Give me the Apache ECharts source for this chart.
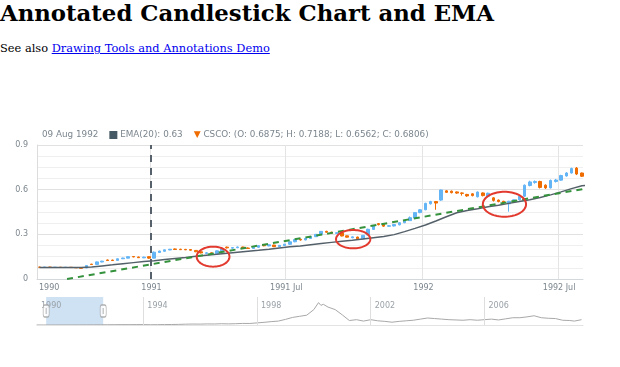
<!DOCTYPE html>
<html><head><meta charset="utf-8">
<script src="https://cdn.jsdelivr.net/npm/echarts@6/dist/echarts.min.js"></script>
<style>
html,body{margin:0;padding:0;background:#fff;width:620px;height:367px;overflow:hidden}
#title{position:absolute;left:0;top:0;margin:0;font:bold 22.8px "DejaVu Serif";line-height:26px;color:#000;white-space:nowrap}
#sub{position:absolute;left:0;top:41px;font:11.4px "DejaVu Serif";line-height:14px;color:#000;white-space:nowrap}
#sub a{color:#0000ee;text-decoration:underline}
#chart{position:absolute;left:0;top:0;width:620px;height:367px}
</style></head><body>
<h1 id="title">Annotated Candlestick Chart and EMA</h1>
<div id="sub">See also <a href="#">Drawing Tools and Annotations Demo</a></div>
<div id="chart"></div>
<script>
// ---- data ----
const firstWeek = '1990-08-05'; // weekly candles, one per week from this date
const opens  = [.080,.079,.080,.078,.079,.078,.079,.077,.075,.074,.100,.098,.114,.128,.127,.125,.136,.140,.151,.148,.142,.150,
  .140,.178,.186,.195,.202,.200,.199,.198,.192,.183,.172,.176,.170,.189,.214,.207,.210,.215,.208,.205,.213,.226,.222,.228,.217,.225,.233,.250,.267,.262,.272,.284,.300,.320,.314,.306,.311,.290,.277,.282,.270,.295,.333,.372,.366,.354,.356,.364,.378,.392,.410,.446,
  .465,.505,.520,.530,.592,.590,.585,.578,.568,.572,.552,.578,.556,.545,.530,.522,.505,.520,.532,.556,.628,.648,.655,.630,.612,.655,.664,.692,.712,.745,.712,.6875];
const highs  = [.082,.081,.082,.080,.081,.080,.080,.079,.077,.092,.102,.118,.122,.131,.130,.138,.143,.152,.153,.150,.150,.152,
  .185,.190,.198,.202,.205,.203,.202,.200,.194,.185,.180,.178,.192,.205,.218,.214,.218,.217,.212,.216,.226,.230,.232,.230,.228,.236,.252,.268,.270,.276,.288,.302,.322,.324,.318,.314,.313,.292,.286,.284,.296,.338,.362,.376,.368,.362,.370,.382,.396,.420,.450,.470,
  .512,.525,.524,.600,.596,.594,.588,.582,.572,.576,.588,.582,.580,.550,.534,.525,.525,.535,.560,.635,.660,.662,.660,.636,.668,.672,.700,.718,.748,.752,.715,.7188];
const lows   = [.078,.077,.078,.077,.077,.076,.076,.074,.070,.073,.095,.097,.112,.122,.122,.124,.134,.139,.146,.141,.140,.136,
  .138,.176,.184,.193,.196,.195,.194,.190,.180,.172,.168,.166,.168,.186,.205,.203,.207,.205,.202,.203,.210,.220,.220,.214,.215,.222,.230,.247,.258,.260,.270,.282,.298,.311,.304,.302,.286,.278,.274,.266,.268,.292,.330,.360,.350,.350,.352,.360,.375,.390,.407,.442,
  .462,.500,.465,.525,.578,.575,.572,.560,.552,.555,.548,.555,.552,.520,.515,.505,.452,.515,.528,.552,.622,.640,.608,.605,.608,.648,.660,.688,.708,.698,.685,.6562];
const closes = [.079,.080,.078,.079,.078,.079,.077,.075,.072,.090,.097,.115,.120,.124,.124,.136,.141,.150,.148,.143,.147,.140,
  .180,.188,.196,.200,.198,.197,.196,.193,.183,.175,.176,.169,.189,.202,.209,.211,.215,.207,.205,.214,.224,.223,.230,.217,.226,.234,.250,.265,.262,.273,.285,.300,.320,.314,.307,.311,.289,.281,.283,.270,.293,.334,.358,.365,.355,.358,.366,.378,.393,.412,.446,.465,
  .508,.520,.510,.598,.582,.580,.577,.575,.558,.560,.584,.560,.576,.528,.520,.512,.522,.532,.556,.630,.652,.655,.615,.612,.662,.665,.695,.712,.742,.705,.690,.6806];
// EMA(20) read every 2nd week (weeks 0,2,...,104) plus the last week
const emaValues = [.077,.077,.077,.077,.077,.080,.088,.095,.103,.110,.117,.123,.131,.138,.145,.153,.160,.166,.173,.180,.187,.193,.200,.208,.216,.222,
  .230,.238,.246,.253,.260,.268,.277,.286,.298,.318,.340,.363,.390,.418,.445,.460,.472,.485,.496,.508,.520,.533,.548,.565,.585,.607,.626,.630];
// visible range of the main chart
const viewStart = '1990-08-01 17:00';
const viewEnd   = '1992-08-03 10:00';
const xTickDates  = ['1991-01-01','1991-07-01','1992-01-01','1992-07-01'];
const xTickLabels = ['1991','1991 Jul','1992','1992 Jul'];
const firstLabel  = '1990';
const yMin = 0, yMax = 0.9, yStep = 0.3;
// annotations
const vLineDate = '1991-01-01';
const trendStart = ['1990-09-11', 0];
const trendEnd   = ['1992-08-03', 0.604];
const ellipseBoxes = [
  ['1991-03-04', 0.083, '1991-04-17', 0.217],
  ['1991-09-07', 0.206, '1991-10-23', 0.329],
  ['1992-03-22', 0.418, '1992-05-19', 0.586]
];
// full history for the scroller
const histDates = ['1990-04-01','1990-07-01','1990-10-01','1991-01-01','1991-04-01','1991-07-01','1991-10-01','1992-01-01','1992-04-01','1992-07-01','1992-10-01',
 '1993-01-01','1993-04-01','1993-07-01','1993-10-01','1994-01-01','1994-04-01','1994-07-01','1994-10-01','1995-01-01','1995-04-01','1995-07-01','1995-10-01',
 '1996-01-01','1996-04-01','1996-07-01','1996-10-01','1997-01-01','1997-04-01','1997-07-01','1997-10-01','1998-01-01','1998-04-01','1998-07-01','1998-10-01',
 '1999-01-01','1999-04-01','1999-07-01','1999-10-01','2000-01-01','2000-03-01','2000-04-01','2000-05-01','2000-07-01','2000-10-01','2001-01-01','2001-04-01',
 '2001-07-01','2001-10-01','2002-01-01','2002-04-01','2002-07-01','2002-10-01','2003-01-01','2003-04-01','2003-07-01','2003-10-01','2004-01-01','2004-04-01',
 '2004-07-01','2004-10-01','2005-01-01','2005-04-01','2005-07-01','2005-10-01','2006-01-01','2006-04-01','2006-07-01','2006-10-01','2007-01-01','2007-04-01',
 '2007-07-01','2007-10-01','2008-01-01','2008-04-01','2008-07-01','2008-10-01','2009-01-01','2009-03-01','2009-06-01'];
const histValues = [0.08,0.08,0.09,0.14,0.2,0.22,0.3,0.5,0.55,0.7,0.9,
 1.1,1.3,1.2,1.5,1.4,1.0,1.2,1.6,1.8,2.2,3.0,3.4,
 3.2,3.8,3.6,4.5,4.0,4.6,5.6,5.5,7.5,9.5,12,14,
 20,27,31,35,55,80,70,74,64,55,36,16,
 19,14,19,15,13,10,13,15,17,21,25,23,
 21,19,18,17,19,17,19,21,18,22,26,26,
 29,33,26,24,23,17,16,14,19];
const histStart = '1990-04-06', histEnd = '2009-06-20';
const histTicks = ['1994-01-01','1998-01-01','2002-01-01','2006-01-01'];

// ---- build ----
const P = s => +echarts.time.parse(s);
const DAY = 86400000;
const w0 = P(firstWeek);
const weekDates = opens.map((_, i) => w0 + i * 7 * DAY);
const candles = weekDates.map((t, i) => [t, opens[i], closes[i], lows[i], highs[i]]);
const last = opens.length - 1;
const ema = emaValues.map((v, k) => [weekDates[k < emaValues.length - 1 ? 2 * k : last], v]);
const vMin = P(viewStart), vMax = P(viewEnd);
const tickTs = xTickDates.map(P);
const labelVals = [vMin].concat(tickTs);
const labelTexts = [firstLabel].concat(xTickLabels);
const hMin = P(histStart), hMax = P(histEnd);
const histTickTs = histTicks.map(P);

const dateStr = echarts.time.format(weekDates[last], '{dd} {MMM} {yyyy}', false);
const f4 = v => v.toFixed(4);
const legendText = '{d|' + dateStr + '}{g|}{sq|}{t| EMA(20): ' + emaValues[emaValues.length - 1].toFixed(2) + '}{g|}{tr|▼}{t| CSCO: (O: ' +
  f4(opens[last]) + '; H: ' + f4(highs[last]) + '; L: ' + f4(lows[last]) + '; C: ' + f4(closes[last]) + ')}';

const labelColor = '#7c868e';
const chart = echarts.init(document.getElementById('chart'), null, {renderer: 'canvas'});
chart.setOption({
  animation: false,
  textStyle: {fontFamily: 'DejaVu Sans'},
  title: {
    left: 42, top: 126, padding: 0,
    text: legendText,
    textStyle: {
      fontWeight: 'normal',
      rich: {
        d: {fontSize: 8.8, color: labelColor, fontFamily: 'DejaVu Sans', fontWeight: 'normal'},
        t: {fontSize: 8.8, color: labelColor, fontFamily: 'DejaVu Sans', fontWeight: 'normal'},
        g: {width: 11},
        sq: {width: 8, height: 8, backgroundColor: '#455a64'},
        tr: {fontSize: 9, color: '#ef6c00', fontFamily: 'DejaVu Sans', fontWeight: 'normal'}
      }
    }
  },
  grid: [
    {left: 37, right: 37, top: 145, height: 134},
    {left: 37, right: 37, top: 297, height: 28}
  ],
  xAxis: [{
    type: 'value', gridIndex: 0, min: vMin, max: vMax, scale: true,
    axisLine: {show: true, lineStyle: {color: '#d4d8db'}},
    axisTick: {show: false, customValues: tickTs},
    axisLabel: {
      customValues: labelVals, color: labelColor, fontSize: 8, margin: 5,
      alignMinLabel: 'left', hideOverlap: false, padding: [0, 0, 0, 2],
      formatter: v => { const i = labelVals.findIndex(x => Math.abs(x - v) < DAY); return i >= 0 ? labelTexts[i] : ''; }
    },
    splitLine: {show: true, lineStyle: {color: '#e4e4e4'}}
  }, {
    type: 'value', gridIndex: 1, min: hMin, max: hMax, position: 'top', scale: true, z: 20,
    axisLine: {show: true, lineStyle: {color: '#e3e3e3'}},
    axisTick: {show: false, customValues: histTickTs},
    axisLabel: {
      inside: true, customValues: [hMin].concat(histTickTs), color: '#9aa2a8', fontSize: 8, margin: 5, align: 'left', padding: [0, 0, 0, 4],
      hideOverlap: false,
      formatter: v => echarts.time.format(v, '{yyyy}', false)
    },
    splitLine: {show: true, lineStyle: {color: '#dedede'}}
  }],
  yAxis: [{
    type: 'value', gridIndex: 0, min: yMin, max: yMax, interval: yStep,
    axisLine: {show: true, lineStyle: {color: '#dcdcdc'}},
    axisTick: {show: false},
    axisLabel: {color: labelColor, fontSize: 8, margin: 9},
    splitLine: {lineStyle: {color: '#e1e1e1'}},
    minorTick: {show: false, splitNumber: 4},
    minorSplitLine: {show: true, lineStyle: {color: '#efefef'}}
  }, {
    type: 'value', gridIndex: 1, min: 0, max: 100, show: false, splitLine: {show: false}
  }],
  series: [{
    type: 'candlestick', xAxisIndex: 0, yAxisIndex: 0, data: candles, barWidth: 3,
    itemStyle: {color: '#64b5f6', color0: '#ef6c00', borderColor: '#64b5f6', borderColor0: '#ef6c00', borderWidth: 1},
    markLine: {
      silent: true, symbol: ['none', 'none'], label: {show: false},
      lineStyle: {color: '#56616b', width: 2, type: [7, 6]},
      data: [{xAxis: P(vLineDate)}]
    }
  }, {
    type: 'line', xAxisIndex: 0, yAxisIndex: 0, data: ema, symbol: 'none', silent: true,
    lineStyle: {color: '#546069', width: 1.5}, z: 3
  }, {
    type: 'line', xAxisIndex: 0, yAxisIndex: 0, symbol: 'none', silent: true,
    data: [[P(trendStart[0]), trendStart[1]], [P(trendEnd[0]), trendEnd[1]]],
    lineStyle: {color: '#34913c', width: 2, type: [6, 5]}, z: 4
  }, {
    type: 'custom', xAxisIndex: 0, yAxisIndex: 0, silent: true, z: 5,
    data: ellipseBoxes.map(b => [P(b[0]), b[1], P(b[2]), b[3]]),
    encode: {x: [0, 2], y: [1, 3]},
    renderItem: (params, api) => {
      const a = api.coord([api.value(0), api.value(1)]);
      const b = api.coord([api.value(2), api.value(3)]);
      const cx = (a[0] + b[0]) / 2, cy = (a[1] + b[1]) / 2;
      const rx = Math.abs(b[0] - a[0]) / 2, ry = Math.abs(b[1] - a[1]) / 2;
      const pts = [];
      for (let k = 0; k < 72; k++) { const t = k / 72 * Math.PI * 2; pts.push([cx + rx * Math.cos(t), cy + ry * Math.sin(t)]); }
      return {type: 'polygon', shape: {points: pts}, style: {fill: 'none', stroke: '#e23a2e', lineWidth: 2}};
    }
  }, {
    type: 'line', xAxisIndex: 1, yAxisIndex: 1, silent: true, symbol: 'none',
    data: histDates.map((d, i) => [P(d), histValues[i]]),
    lineStyle: {color: '#a8a8a8', width: 1},
    markArea: {silent: true, itemStyle: {color: '#cfe2f4', opacity: 1}, data: [[{xAxis: vMin, yAxis: 0}, {xAxis: vMax, yAxis: 100}]]}
  }, {
    type: 'scatter', xAxisIndex: 1, yAxisIndex: 1, silent: true, z: 30,
    data: [[vMin, 50], [vMax, 50]], symbol: 'roundRect', symbolSize: [6, 12],
    itemStyle: {color: '#ffffff', borderColor: '#9e9e9e', borderWidth: 1}
  }, {
    type: 'scatter', xAxisIndex: 1, yAxisIndex: 1, silent: true, z: 31,
    data: [[vMin, 50], [vMax, 50]], symbol: 'rect', symbolSize: [1, 6],
    itemStyle: {color: '#9e9e9e'}
  }]
});
</script>
</body></html>
